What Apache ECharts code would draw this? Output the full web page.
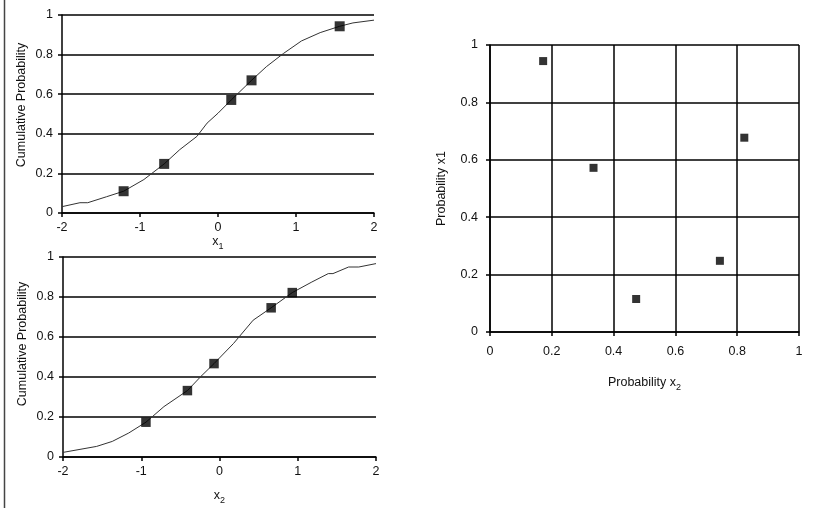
<!DOCTYPE html>
<html>
<head>
<meta charset="utf-8">
<script src="https://cdn.jsdelivr.net/npm/echarts@6/dist/echarts.min.js"></script>
<style>
html,body{margin:0;padding:0;background:#fff;}
#chart{width:824px;height:510px;}
</style>
</head>
<body>
<div id="chart"></div>
<script>
// ---- data ----
const x1CurveX = [-2, -1.77, -1.67, -1.43, -1.21, -0.95, -0.69, -0.49, -0.27, -0.14, 0, 0.17, 0.43, 0.62, 0.84, 1.07, 1.31, 1.56, 1.73, 2];
const x1CurveY = [0.032, 0.052, 0.052, 0.082, 0.11, 0.169, 0.248, 0.32, 0.387, 0.454, 0.504, 0.571, 0.67, 0.739, 0.806, 0.869, 0.911, 0.943, 0.96, 0.974];
const x1SampleX = [-1.21, -0.69, 0.17, 0.43, 1.56];
const x1SampleY = [0.11, 0.248, 0.571, 0.67, 0.943];

const x2CurveX = [-2, -1.57, -1.37, -1.16, -0.94, -0.71, -0.41, -0.24, -0.07, 0.18, 0.43, 0.66, 0.93, 1.18, 1.39, 1.45, 1.65, 1.78, 2];
const x2CurveY = [0.023, 0.053, 0.078, 0.12, 0.174, 0.252, 0.332, 0.402, 0.467, 0.568, 0.684, 0.746, 0.822, 0.875, 0.917, 0.917, 0.95, 0.95, 0.967];
const x2SampleX = [-0.94, -0.41, -0.07, 0.66, 0.93];
const x2SampleY = [0.174, 0.332, 0.467, 0.746, 0.822];

const probX2 = [0.172, 0.335, 0.823, 0.744, 0.473];
const probX1 = [0.944, 0.572, 0.677, 0.248, 0.115];

const cdfTicks = [-2, -1, 0, 1, 2];
const probTicks = [0, 0.2, 0.4, 0.6, 0.8, 1];
const yAxisName = 'Cumulative Probability';
const scatterXName = 'Probability x';
const scatterYName = 'Probability x1';

// ---- chart ----
const FONT = "'Liberation Sans', Arial, sans-serif";
const FS = 12.5;
const TXT = '#111';
const zip = (a, b) => a.map((v, i) => [v, b[i]]);

const labelStyle = {fontFamily: FONT, fontSize: FS, color: TXT};
const axisLine = {show: true, onZero: false, lineStyle: {color: '#000', width: 1.5}};
const axisTick = {show: true, inside: false, length: 4, lineStyle: {color: '#000', width: 1.5}};
const gridLine = {show: true, lineStyle: {color: '#000', width: 1.5}};
const subRich = {
  n: {fontFamily: FONT, fontSize: FS, color: TXT},
  s: {fontFamily: FONT, fontSize: 9, color: TXT, padding: [10, 0, 0, 0]}
};
const fmt = v => String(Math.round(v * 10) / 10);

function cdfXAxis(gridIndex, name, gap) {
  return {
    type: 'value', gridIndex, min: -2, max: 2, interval: 1,
    name: '{n|' + name + '}{s|' + (gridIndex + 1) + '}',
    nameLocation: 'middle', nameGap: gap,
    nameTextStyle: {rich: subRich},
    axisLine, axisTick,
    axisLabel: Object.assign({margin: 8, formatter: v => cdfTicks.includes(v) ? String(v) : ''}, labelStyle),
    splitLine: {show: false}
  };
}
function probYAxis(gridIndex, name, gap, margin, shiftUp) {
  return {
    type: 'value', gridIndex, min: 0, max: 1, interval: 0.2,
    name, nameLocation: 'middle', nameGap: gap,
    nameTextStyle: {fontFamily: FONT, fontSize: FS, color: TXT, padding: [0, 0, 0, shiftUp]},
    axisLine, axisTick,
    axisLabel: Object.assign({margin, formatter: fmt}, labelStyle),
    splitLine: gridLine
  };
}

const chart = echarts.init(document.getElementById('chart'), null, {renderer: 'canvas'});
chart.setOption({
  backgroundColor: '#fff',
  animation: false,
  grid: [
    {left: 62, top: 15, width: 312, height: 198},
    {left: 63, top: 257, width: 313, height: 200},
    {left: 490, top: 45, width: 309, height: 287}
  ],
  xAxis: [
    cdfXAxis(0, 'x', 14),
    cdfXAxis(1, 'x', 29),
    {
      type: 'value', gridIndex: 2, min: 0, max: 1, interval: 0.2,
      name: '{n|' + scatterXName + '}{s|2}', nameLocation: 'middle', nameGap: 41,
      nameTextStyle: {rich: subRich},
      axisLine, axisTick,
      axisLabel: Object.assign({margin: 13, formatter: fmt}, labelStyle),
      splitLine: gridLine
    }
  ],
  yAxis: [
    probYAxis(0, yAxisName, 34, 9, 18),
    probYAxis(1, yAxisName, 34, 9, 26),
    probYAxis(2, scatterYName, 42, 12, 0)
  ],
  series: [
    {type: 'line', xAxisIndex: 0, yAxisIndex: 0, data: zip(x1CurveX, x1CurveY), showSymbol: false, symbol: 'none',
      lineStyle: {color: '#333', width: 1}, z: 3},
    {type: 'scatter', xAxisIndex: 0, yAxisIndex: 0, data: zip(x1SampleX, x1SampleY), symbol: 'rect', symbolSize: 10,
      itemStyle: {color: '#000'}, z: 4},
    {type: 'line', xAxisIndex: 1, yAxisIndex: 1, data: zip(x2CurveX, x2CurveY), showSymbol: false, symbol: 'none',
      lineStyle: {color: '#333', width: 1}, z: 3},
    {type: 'scatter', xAxisIndex: 1, yAxisIndex: 1, data: zip(x2SampleX, x2SampleY), symbol: 'rect', symbolSize: 9.5,
      itemStyle: {color: '#000'}, z: 4},
    {type: 'scatter', xAxisIndex: 2, yAxisIndex: 2, data: zip(probX2, probX1), symbol: 'rect', symbolSize: 8,
      itemStyle: {color: '#000'}, z: 4}
  ],
  graphic: [
    {type: 'line', shape: {x1: 4.5, y1: 0, x2: 4.5, y2: 508}, style: {stroke: '#444', lineWidth: 1.5}}
  ]
});
</script>
</body>
</html>
